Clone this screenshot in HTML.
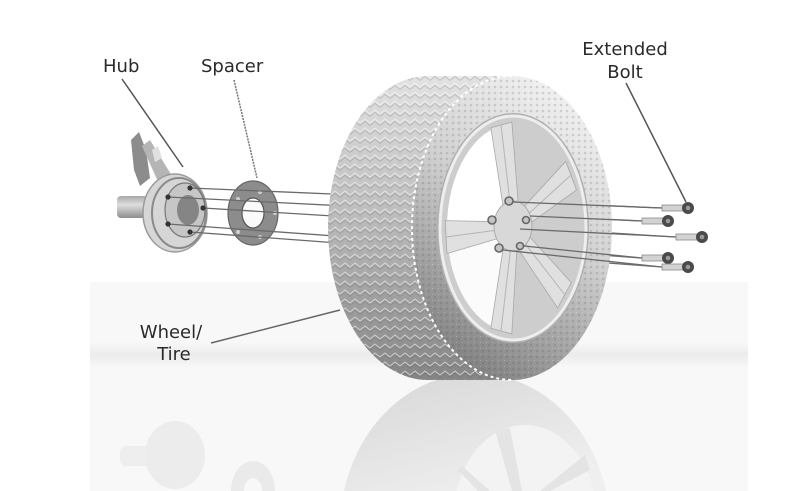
<!DOCTYPE html>
<html><head><meta charset="utf-8">
<style>
html,body{margin:0;padding:0;background:#fff;width:800px;height:491px;overflow:hidden;}
svg{display:block;overflow:hidden;}
text{font-family:"DejaVu Sans","Liberation Sans",sans-serif;font-size:18px;fill:#2a2a2a;}
</style></head>
<body>
<svg width="800" height="491" viewBox="0 0 800 491" xmlns="http://www.w3.org/2000/svg">
<defs>
  <linearGradient id="treadG" x1="0" y1="0" x2="0" y2="1">
    <stop offset="0" stop-color="#e2e2e2"/>
    <stop offset="0.45" stop-color="#bdbdbd"/>
    <stop offset="1" stop-color="#858585"/>
  </linearGradient>
  <linearGradient id="sideG" x1="0.75" y1="0" x2="0.3" y2="1">
    <stop offset="0" stop-color="#f4f4f4"/>
    <stop offset="0.45" stop-color="#d0d0d0"/>
    <stop offset="1" stop-color="#7e7e7e"/>
  </linearGradient>
  <linearGradient id="reflG" x1="0" y1="0" x2="0.6" y2="1">
    <stop offset="0" stop-color="#d6d6d6"/>
    <stop offset="1" stop-color="#efefef"/>
  </linearGradient>
  <linearGradient id="shaftG" x1="0" y1="0" x2="0" y2="1">
    <stop offset="0" stop-color="#a8a8a8"/>
    <stop offset="0.4" stop-color="#dedede"/>
    <stop offset="1" stop-color="#8e8e8e"/>
  </linearGradient>
  <linearGradient id="bandG" x1="0" y1="0" x2="0" y2="1">
    <stop offset="0" stop-color="#f8f8f8"/>
    <stop offset="0.5" stop-color="#ececec"/>
    <stop offset="1" stop-color="#f8f8f8"/>
  </linearGradient>
  <pattern id="treadP" width="10" height="9" patternUnits="userSpaceOnUse">
    <path d="M0 6 L5 2 L10 6" stroke="#ffffff" stroke-width="1" fill="none" opacity="0.55"/>
    <path d="M0 8.5 L5 4.5 L10 8.5" stroke="#555" stroke-width="0.8" fill="none" opacity="0.3"/>
  </pattern>
  <pattern id="sideP" width="6" height="6" patternUnits="userSpaceOnUse">
    <circle cx="3" cy="3" r="1.3" fill="#555" opacity="0.25"/>
    <circle cx="0" cy="0" r="1" fill="#fff" opacity="0.4"/>
  </pattern>
</defs>

<!-- background panel -->
<rect x="90" y="282" width="658" height="209" fill="#f8f8f8"/>
<rect x="90" y="342" width="658" height="26" fill="url(#bandG)"/>

<!-- reflections -->
<path d="M344,491 A135,155 0 0 1 606,491 Z" fill="url(#reflG)"/>
<path d="M456.4,491 A72,95 0 0 1 593.6,491 Z" fill="#f3f3f3"/>
<polygon points="512,491 495,430 510,428 522,491" fill="#e4e4e4"/>
<polygon points="540,491 585,455 590,470 550,491" fill="#e4e4e4"/>
<polygon points="478,491 458,470 462,466 490,491" fill="#e4e4e4"/>
<rect x="120" y="446" width="36" height="20" rx="6" fill="#eeeeee"/>
<ellipse cx="175" cy="455" rx="30" ry="34" fill="#ececec"/>
<path d="M231,491 A22,30 0 0 1 275,491 Z" fill="#eaeaea"/>
<path d="M244,491 A9,13 0 0 1 262,491 Z" fill="#f8f8f8"/>

<!-- hub -->
<polygon points="131,140 139,132 146,150 150,178 140,186 134,170" fill="#8c8c8c"/>
<polygon points="142,146 150,140 172,176 160,186" fill="#b5b5b5"/>
<polygon points="152,150 158,146 162,158 155,162" fill="#e0e0e0"/>
<rect x="117" y="196" width="34" height="22" rx="4" fill="url(#shaftG)"/>
<ellipse cx="175" cy="213" rx="32" ry="39" fill="#d6d6d6" stroke="#9a9a9a" stroke-width="1.5"/>
<ellipse cx="179" cy="213" rx="27" ry="35" fill="none" stroke="#8a8a8a" stroke-width="2"/>
<ellipse cx="185" cy="210" rx="20" ry="27" fill="#c6c6c6" stroke="#777" stroke-width="1.2"/>
<ellipse cx="188" cy="210" rx="11" ry="15" fill="#858585"/>

<!-- spacer -->
<ellipse cx="253" cy="213" rx="25" ry="32" fill="#8c8c8c" stroke="#666" stroke-width="1.2"/>
<ellipse cx="253" cy="213" rx="11" ry="15" fill="#fafafa" stroke="#555" stroke-width="1.2"/>
<circle cx="260" cy="192" r="2" fill="#d0d0d0"/>
<circle cx="238" cy="199" r="2" fill="#d0d0d0"/>
<circle cx="275" cy="213" r="2" fill="#d0d0d0"/>
<circle cx="238" cy="232" r="2" fill="#d0d0d0"/>
<circle cx="260" cy="237" r="2" fill="#d0d0d0"/>

<!-- long stud lines -->
<g stroke="#6a6a6a" stroke-width="1.3" fill="none">
  <line x1="190" y1="188" x2="662" y2="208"/>
  <line x1="168" y1="197" x2="642" y2="221"/>
  <line x1="203" y1="208" x2="676" y2="237"/>
  <line x1="168" y1="224" x2="642" y2="258"/>
  <line x1="190" y1="232" x2="662" y2="267"/>
</g>
<g fill="#333">
  <circle cx="190" cy="188" r="2.6"/>
  <circle cx="168" cy="197" r="2.6"/>
  <circle cx="203" cy="208" r="2.6"/>
  <circle cx="168" cy="224" r="2.6"/>
  <circle cx="190" cy="232" r="2.6"/>
</g>

<!-- tire tread -->
<path d="M428,76 A100,152 0 0 0 428,380 L512,380 L512,76 Z" fill="url(#treadG)"/>
<path d="M428,76 A100,152 0 0 0 428,380 L512,380 L512,76 Z" fill="url(#treadP)"/>
<!-- sidewall -->
<ellipse cx="512" cy="228" rx="100" ry="152" fill="url(#sideG)"/>
<ellipse cx="512" cy="228" rx="100" ry="152" fill="url(#sideP)" opacity="0.8"/>
<path d="M512,76 A100,152 0 0 0 512,380" fill="none" stroke="#fff" stroke-width="2" stroke-dasharray="3 3"/>

<!-- rim -->
<ellipse cx="513" cy="228" rx="76" ry="115" fill="#b0b0b0"/>
<ellipse cx="513" cy="228" rx="73" ry="112" fill="#cdcdcd" stroke="#eeeeee" stroke-width="3"/>
<path d="M513,228 L447.2,237.1 A66,104 0 0 1 501.5,125.6 Z" fill="#ffffff"/>
<path d="M513,228 L501.5,330.4 A66,104 0 0 1 447.2,237.1 Z" fill="#fbfbfb"/>
<g fill="#e0e0e0" stroke="#a8a8a8" stroke-width="0.8">
  <polygon points="506,225 490.9,127.8 511.8,122 520,225"/>
  <polygon points="510,222 565.8,161.3 576.5,190 518,232"/>
  <polygon points="518,224 571.3,282.6 557.6,308 508,234"/>
  <polygon points="518,230 511.8,334 490.9,328.2 506,230"/>
  <polygon points="513,234 447,253.6 445.2,220.6 513,222"/>
</g>
<g stroke="#b4b4b4" stroke-width="1">
  <line x1="513" y1="228" x2="501" y2="125"/>
  <line x1="513" y1="228" x2="571" y2="175"/>
  <line x1="513" y1="228" x2="565" y2="295"/>
  <line x1="513" y1="228" x2="501" y2="331"/>
  <line x1="513" y1="228" x2="446" y2="237"/>
</g>
<ellipse cx="513" cy="226" rx="19" ry="25" fill="#d8d8d8" stroke="#aaa" stroke-width="1"/>
<g fill="#c4c4c4" stroke="#666" stroke-width="1.6">
  <circle cx="509" cy="201" r="4"/>
  <circle cx="492" cy="220" r="4"/>
  <circle cx="499" cy="248" r="4"/>
  <circle cx="520" cy="246" r="3.5"/>
  <circle cx="526" cy="220" r="3.5"/>
</g>

<!-- stud lines over rim -->
<g stroke="#6a6a6a" stroke-width="1.3" fill="none">
  <line x1="513" y1="202" x2="662" y2="208"/>
  <line x1="530" y1="216" x2="642" y2="221"/>
  <line x1="520" y1="229" x2="676" y2="237"/>
  <line x1="524" y1="246" x2="642" y2="258"/>
  <line x1="503" y1="250" x2="662" y2="267"/>
</g>

<!-- bolts -->
<g>
  <rect x="662" y="205" width="22" height="6" fill="#d2d2d2" stroke="#8a8a8a" stroke-width="0.8"/>
  <circle cx="688" cy="208" r="6" fill="#4a4a4a"/><circle cx="688" cy="208" r="2.3" fill="#999"/>
  <rect x="642" y="218" width="22" height="6" fill="#d2d2d2" stroke="#8a8a8a" stroke-width="0.8"/>
  <circle cx="668" cy="221" r="6" fill="#4a4a4a"/><circle cx="668" cy="221" r="2.3" fill="#999"/>
  <rect x="676" y="234" width="22" height="6" fill="#d2d2d2" stroke="#8a8a8a" stroke-width="0.8"/>
  <circle cx="702" cy="237" r="6" fill="#4a4a4a"/><circle cx="702" cy="237" r="2.3" fill="#999"/>
  <rect x="642" y="255" width="22" height="6" fill="#d2d2d2" stroke="#8a8a8a" stroke-width="0.8"/>
  <circle cx="668" cy="258" r="6" fill="#4a4a4a"/><circle cx="668" cy="258" r="2.3" fill="#999"/>
  <rect x="662" y="264" width="22" height="6" fill="#d2d2d2" stroke="#8a8a8a" stroke-width="0.8"/>
  <circle cx="688" cy="267" r="6" fill="#4a4a4a"/><circle cx="688" cy="267" r="2.3" fill="#999"/>
</g>

<!-- leader lines -->
<g stroke="#555" stroke-width="1.5" fill="none">
  <line x1="122" y1="79" x2="183" y2="167"/>
  <line x1="234" y1="80" x2="257" y2="178" stroke="#777" stroke-dasharray="2 1"/>
  <line x1="626" y1="83" x2="686" y2="202"/>
  <line x1="211" y1="343" x2="340" y2="310" stroke="#666"/>
</g>

<!-- labels -->
<text x="103" y="72">Hub</text>
<text x="201" y="72">Spacer</text>
<text x="625" y="55" text-anchor="middle">Extended</text>
<text x="625" y="78" text-anchor="middle">Bolt</text>
<text x="171" y="338" text-anchor="middle">Wheel/</text>
<text x="174" y="360" text-anchor="middle">Tire</text>
</svg>
</body></html>
